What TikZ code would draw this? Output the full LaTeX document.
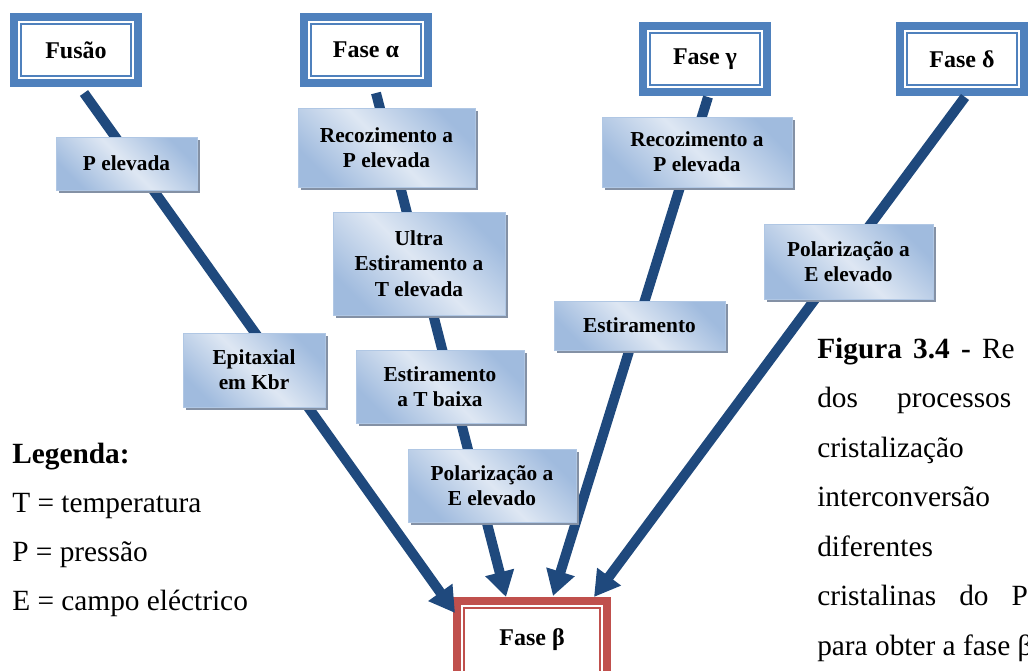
\documentclass[tikz,border=0pt]{standalone}
\usepackage{fontspec}
\setmainfont{Liberation Serif}
\usetikzlibrary{arrows.meta,calc,positioning,shadows}

\definecolor{phaseblue}{RGB}{79,129,189}
\definecolor{betared}{RGB}{192,80,77}
\definecolor{flowblue}{RGB}{31,73,125}
\definecolor{proclight}{RGB}{222,231,243}
\definecolor{procdark}{RGB}{160,187,222}
\definecolor{procedge}{RGB}{176,199,228}
\definecolor{procshadow}{RGB}{132,145,165}

\tikzset{
  phase/.style={fill=white, draw=#1, line width=1.5pt, inner sep=0pt,
    minimum width=83pt, minimum height=39pt,
    font=\fontsize{18}{21}\selectfont\bfseries,
    preaction={draw=#1, line width=16.5pt},
    preaction={draw=white, line width=4.5pt}},
  proc/.style={draw=procedge, line width=0.75pt, inner sep=0pt, align=center,
    top color=procdark, bottom color=procdark, middle color=proclight,
    shading angle=-45,
    general shadow={fill=procshadow, shadow xshift=2.5pt, shadow yshift=-2.5pt},
    font=\fontsize{16}{19}\selectfont\bfseries},
  flow/.style={draw=flowblue, line width=7.5pt,
    -{Triangle[length=19pt,width=21pt]}},
  legtext/.style={anchor=base west, inner sep=0pt,
    font=\fontsize{22}{26}\selectfont}
}

\begin{document}
\begin{tikzpicture}[x=0.75pt,y=-0.75pt]
  \useasboundingbox (0,0) rectangle (1028,671);
  \clip (0,0) rectangle (1028,671);
  % Starting phases and the phase beta at the bottom.
  \node[phase=phaseblue] (fusao) at (76,50) {Fusão};
  \node[phase=phaseblue] (alfa) at (366,50) {Fase α};
  \node[phase=phaseblue] (gama) at (705,59) {Fase γ};
  \node[phase=phaseblue] (delta) at (962,59) {Fase δ};
  \node[phase=betared, minimum width=102pt, minimum height=48pt] (beta) at (532,640) {Fase β};
  % Routes to beta (under the process boxes).
  \draw[flow] ($(fusao.south)+(8,16)$) -- ($(beta.north west)+(-8,6)$);
  \draw[flow] ($(alfa.south)+(10,16)$) -- ($(beta.north)+(-26,-10)$);
  \draw[flow] ($(gama.south)+(3,11)$) -- ($(beta.north)+(21,-11)$);
  \draw[flow] ($(delta.south)+(3,11)$) -- ($(beta.north)+(62,-10)$);
  % Processes on the routes.
  \node[proc, minimum width=105.75pt, minimum height=39.75pt] (pelev) at (126.5,163.5) {P elevada};
  \node[proc, minimum width=106.5pt, minimum height=55.5pt] (epitax) at (254,370) {Epitaxial\\em Kbr};
  \node[proc, minimum width=132.75pt, minimum height=59.25pt] (recalfa) at (386.5,147.5) {Recozimento a\\P elevada};
  \node[proc, minimum width=129pt, minimum height=77.25pt] (ultra) at (419,263.5) {Ultra\\Estiramento a\\T elevada};
  \node[proc, minimum width=126pt, minimum height=54.75pt] (estbaixa) at (440,386.5) {Estiramento\\a T baixa};
  \node[proc, minimum width=126pt, minimum height=54.75pt] (polalfa) at (492,485.5) {Polarização a\\E elevado};
  \node[proc, minimum width=142.5pt, minimum height=52.5pt] (recgama) at (697,152) {Recozimento a\\P elevada};
  \node[proc, minimum width=128.25pt, minimum height=36.75pt] (estir) at (639.5,325.5) {Estiramento};
  \node[proc, minimum width=126.75pt, minimum height=56.25pt] (poldelta) at (848.5,261.5) {Polarização a\\E elevado};
  % Legend.
  \node[legtext, font=\fontsize{22}{26}\selectfont\bfseries] (leg) at (12,463) {Legenda:};
  \node[legtext] (legT) at (12,512) {T = temperatura};
  \node[legtext] (legP) at (12,561) {P = pressão};
  \node[legtext] (legE) at (12,610) {E = campo eléctrico};
  % Caption (cut at the right edge).
  \node[legtext] (capA) at (817,358) {\makebox[148pt][s]{\textbf{Figura 3.4 -} Re}};
  \node[legtext] (capB) at (817,407) {\makebox[145.5pt][s]{dos processos}};
  \node[legtext] (capC) at (817,457) {cristalização};
  \node[legtext] (capD) at (817,506) {interconversão};
  \node[legtext] (capE) at (817,556) {diferentes};
  \node[legtext] (capF) at (817,605) {\makebox[158pt][s]{cristalinas do P}};
  \node[legtext] (capG) at (817,655) {para obter a fase β};
\end{tikzpicture}
\end{document}
